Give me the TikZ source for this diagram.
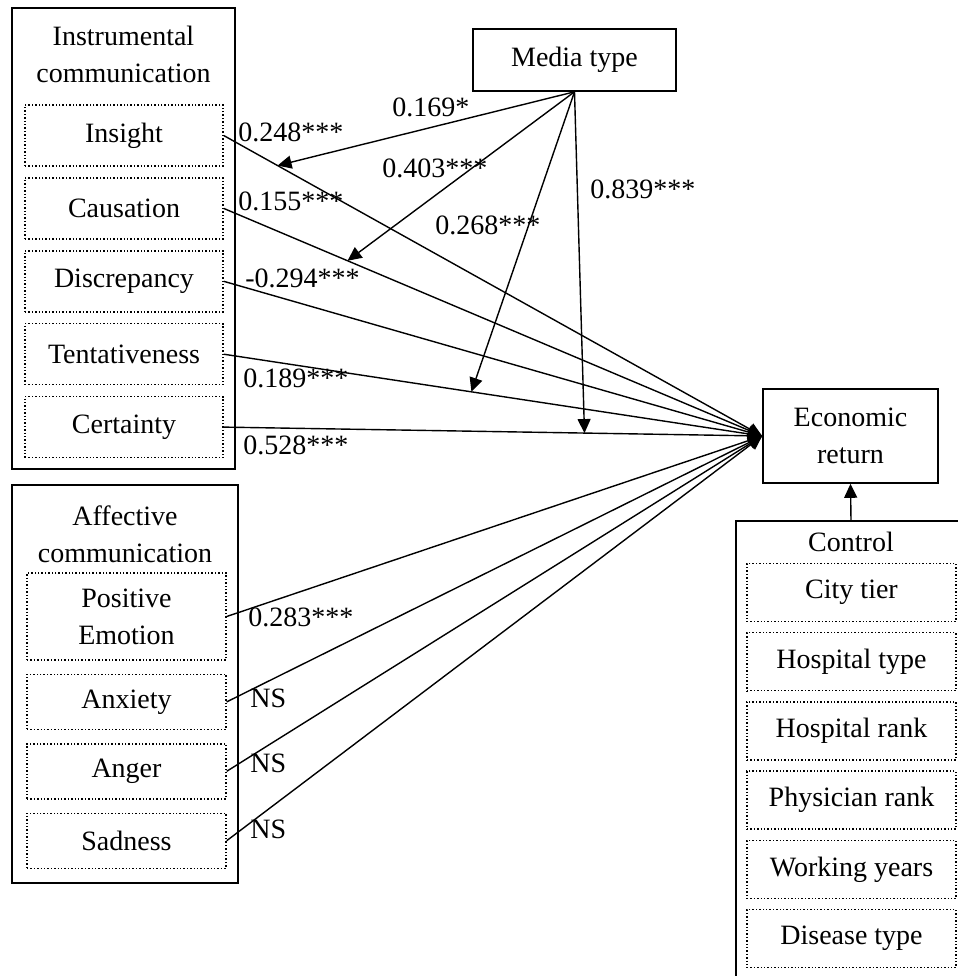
\documentclass[tikz,border=0pt]{standalone}
\usepackage{fontspec}
\setmainfont{Liberation Serif}
\usetikzlibrary{arrows.meta, positioning, calc}

\begin{document}
\begin{tikzpicture}[
    x=0.5pt, y=-0.5pt,
    font=\fontsize{14}{18.5}\selectfont,
    groupbox/.style={draw, line width=0.9pt, inner sep=0pt},
    subbox/.style={draw, densely dotted, line width=0.7pt, align=center, inner sep=1pt},
    varbox/.style={draw, line width=0.8pt, align=center},
    title/.style={align=center, inner sep=0pt},
    effect/.style={-{Triangle[length=7pt, width=6.5pt]}, line width=0.7pt},
    coef/.style={anchor=west, inner sep=0pt},
    node distance=5.25pt
  ]
    \useasboundingbox (0,0) rectangle (958,976);
    \clip (0,0) rectangle (958,976);

    % Left column: instrumental communication
    \node[groupbox, minimum width=111.5pt, minimum height=230.5pt] (instr) at (123.5,238.5) {};
    \node[title, below=9.5pt of instr.north] (instrtitle) {Instrumental\\communication};
    \node[subbox, minimum width=99pt, minimum height=30.5pt] (insight) at (124,135.5) {Insight};
    \node[subbox, minimum width=99pt, minimum height=30.5pt, below=of insight]     (causation)     {Causation};
    \node[subbox, minimum width=99pt, minimum height=30.5pt, below=of causation]   (discrepancy)   {Discrepancy};
    \node[subbox, minimum width=99pt, minimum height=30.5pt, below=of discrepancy] (tentativeness) {Tentativeness};
    \node[subbox, minimum width=99pt, minimum height=30.5pt, below=of tentativeness] (certainty)   {Certainty};

    % Left column: affective communication
    \node[groupbox, minimum width=113pt, minimum height=199pt] (affect) at (125,684) {};
    \node[title, below=10.5pt of affect.north] (affecttitle) {Affective\\communication};
    \node[subbox, minimum width=99.5pt, minimum height=43.5pt] (posemo) at (126.5,616.5) {Positive\\Emotion};
    \node[subbox, minimum width=99.5pt, minimum height=27.5pt, below=6.5pt of posemo]  (anxiety) {Anxiety};
    \node[subbox, minimum width=99.5pt, minimum height=27.5pt, below=6.5pt of anxiety] (anger)   {Anger};
    \node[subbox, minimum width=99.5pt, minimum height=27.5pt, below=6.5pt of anger]   (sadness) {Sadness};

    % Moderator and outcome
    \node[varbox, minimum width=101.5pt, minimum height=31pt] (media) at (574.5,60) {Media type};
    \node[varbox, minimum width=87.5pt, minimum height=47pt] (econ) at (850.5,436) {Economic\\return};

    % Right column: controls (box runs off the page)
    \node[groupbox, minimum width=115pt, minimum height=234.5pt] (control) at (851,755.5) {};
    \node[title, below=6pt of control.north] (controltitle) {Control};
    \node[subbox, minimum width=104.5pt, minimum height=29pt] (city) at (851.5,592.5) {City tier};
    \node[subbox, minimum width=104.5pt, minimum height=29pt, below=4.9pt of city]      (hosptype)  {Hospital type};
    \node[subbox, minimum width=104.5pt, minimum height=29pt, below=4.9pt of hosptype]  (hosprank)  {Hospital rank};
    \node[subbox, minimum width=104.5pt, minimum height=29pt, below=4.9pt of hosprank]  (physrank)  {Physician rank};
    \node[subbox, minimum width=104.5pt, minimum height=29pt, below=4.9pt of physrank]  (years)     {Working years};
    \node[subbox, minimum width=104.5pt, minimum height=29pt, below=4.9pt of years]     (disease)   {Disease type};

    % Direct effects
    \foreach \s in {insight, causation, discrepancy, tentativeness, certainty, posemo, anxiety, anger, sadness}
      \draw[effect] (\s.east) -- (econ.west);
    \draw[effect] (control.north) -- (econ.south);

    % Moderating effects of media type
    \coordinate (onInsight)   at ($(insight.east)!0.1!(econ.west)$);
    \coordinate (onCausation) at ($(causation.east)!0.23!(econ.west)$);
    \coordinate (onTentative) at ($(tentativeness.east)!0.46!(econ.west)$);
    \coordinate (onCertainty) at ($(certainty.east)!0.67!(econ.west)$);
    \foreach \t in {onInsight, onCausation, onTentative, onCertainty}
      \draw[effect] (media.south) -- (\t);

    % Coefficients
    \node[coef] (cInsight)   at (238,132) {0.248***};
    \node[coef] (cCausation) at (238,201) {0.155***};
    \node[coef] (cDiscrep)   at (245,278) {-0.294***};
    \node[coef] (cTentative) at (243,378) {0.189***};
    \node[coef] (cCertainty) at (243,445) {0.528***};
    \node[coef] (cPosemo)    at (248,617) {0.283***};
    \node[coef] (cAnxiety)   at (250,698) {NS};
    \node[coef] (cAnger)     at (250,763) {NS};
    \node[coef] (cSadness)   at (250,829) {NS};
    \node[coef] (mInsight)   at (392,107) {0.169*};
    \node[coef] (mCausation) at (382,168) {0.403***};
    \node[coef] (mTentative) at (435,225) {0.268***};
    \node[coef] (mCertainty) at (590,189) {0.839***};
\end{tikzpicture}
\end{document}
